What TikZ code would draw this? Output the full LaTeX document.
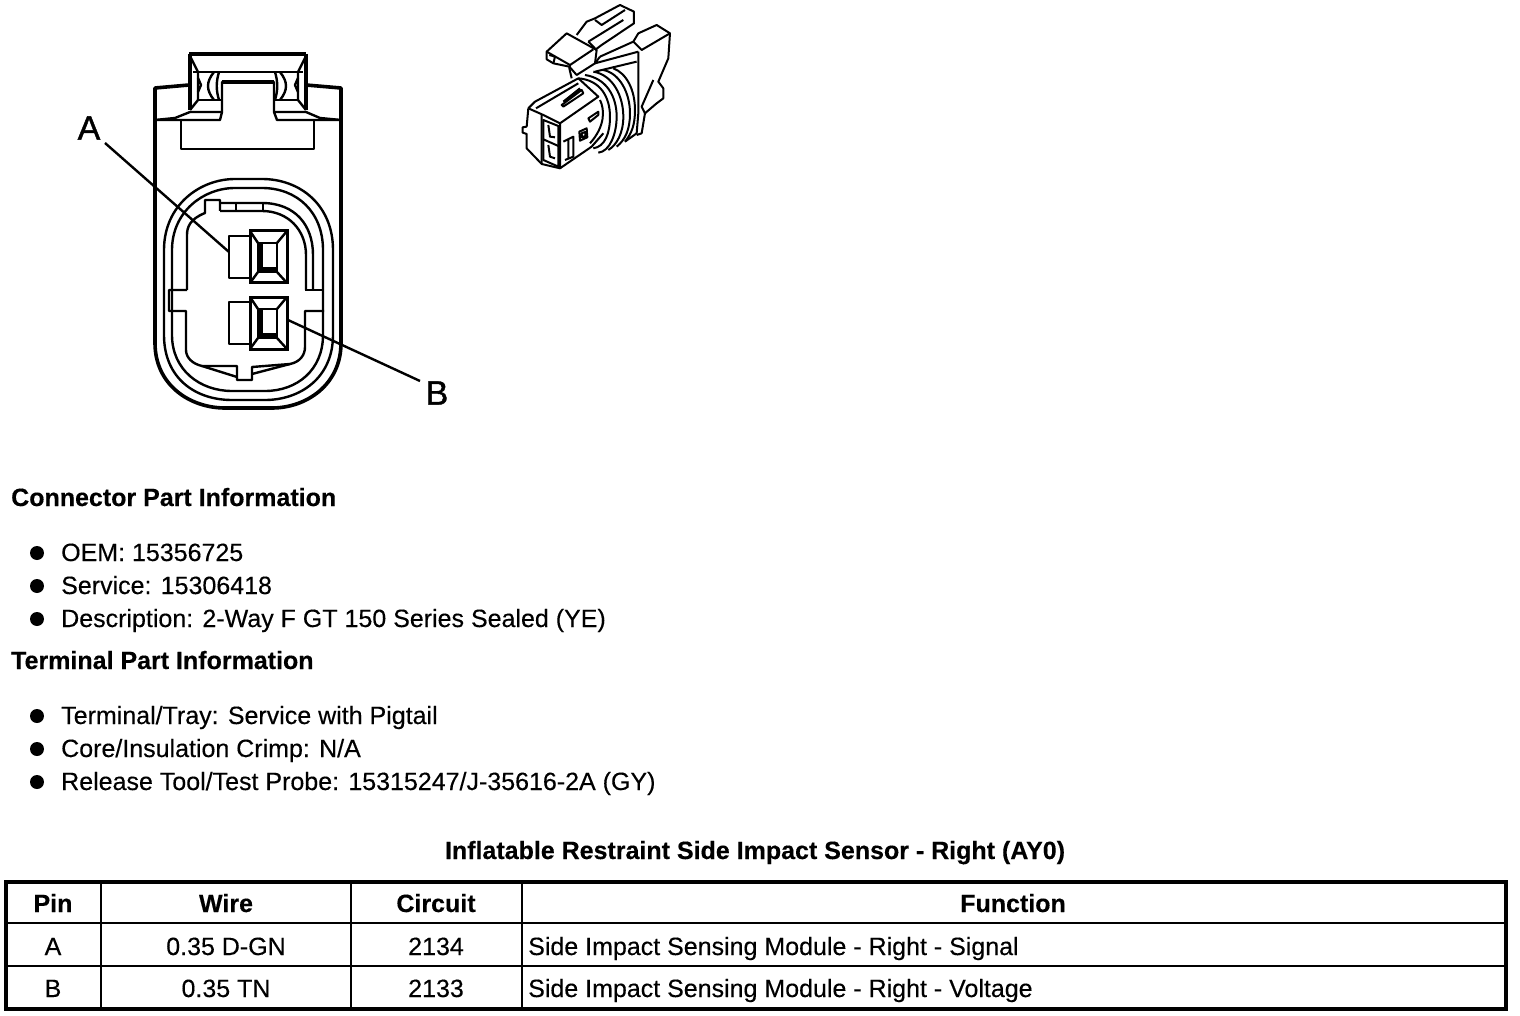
\documentclass[tikz,border=0pt]{standalone}
\usepackage{fontspec}
\setmainfont{Liberation Sans}[FakeBold=0.3]
\tikzset{
  txt/.style={inner sep=0pt,anchor=base west,font=\fontsize{25}{29}\selectfont},
  head/.style={txt,font=\fontsize{25}{29}\selectfont\bfseries},
  cell/.style={txt,anchor=base},
  headcell/.style={head,anchor=base},
  callout/.style={inner sep=0pt,font=\fontsize{34}{38}\selectfont\addfontfeature{FakeBold=1.2}},
  bullet/.style={circle,fill=black,inner sep=0pt,minimum size=14pt},
  part/.style={line width=2.4pt,line join=round},
  heavy/.style={line width=3.6pt,line join=round},
  rule/.style={line width=1.4pt},
  frame/.style={line width=3.4pt}
}
\begin{document}
\begin{tikzpicture}[x=1pt,y=-1pt]
  \useasboundingbox (0,0) rectangle (1520,1016);
  % housing
  \draw[heavy] (189,54) -- (306,54);
  \draw[heavy] (190,54) -- (190,110) (306,54) -- (306,110);
  \draw[heavy] (155,343) -- (155,88) -- (189,85);
  \draw[heavy] (306,85) -- (341,88) -- (341,343);
  \draw[heavy] (155,343) .. controls (155,385) and (190,408) .. (225,408) -- (272,408)
    .. controls (306,408) and (341,385) .. (341,343);
  \draw[part] (155,120) -- (175,118) -- (190,112) -- (222,112);
  \draw[part] (341,120) -- (320,118) -- (306,112) -- (274,112);
  \draw[part] (155,120) -- (220,120) -- (222,112) -- (222,82) -- (274,82) -- (274,112) -- (277,120) -- (341,120);
  \draw[heavy] (222,82) -- (274,82);
  \draw[part] (181,120) -- (181,149) -- (314,149) -- (314,120);
  \draw[part] (193,72) -- (303,72);
  \draw[part] (190,56) -- (198,72) -- (198,100) -- (190,110);
  \draw[part] (306,56) -- (298,72) -- (298,100) -- (306,110);
  \draw[part] (198,100) -- (222,100) (298,100) -- (274,100);
  \draw[part] (198,78) -- (201,85) -- (198,92) (298,78) -- (295,85) -- (298,92);
  \draw[part] (214,72) .. controls (206,82) and (206,90) .. (214,100);
  \draw[part] (219,72) .. controls (216,82) and (216,90) .. (219,100);
  \draw[part] (275,72) .. controls (278,82) and (278,90) .. (275,100);
  \draw[part] (280,72) .. controls (288,82) and (288,90) .. (280,100);
  % rings
  \draw[part] (164,250) .. controls (164,205) and (200,179) .. (235,179) -- (262,179)
    .. controls (300,179) and (333,205) .. (333,250) -- (333,335)
    .. controls (333,378) and (300,400) .. (265,400) -- (232,400)
    .. controls (195,400) and (164,378) .. (164,335) -- cycle;
  \draw[part] (172,250) .. controls (172,212) and (203,188) .. (235,188) -- (262,188)
    .. controls (297,188) and (323,212) .. (323,250) -- (323,335)
    .. controls (323,370) and (297,391) .. (265,391) -- (232,391)
    .. controls (200,391) and (172,370) .. (172,335) -- cycle;
  % cavity
  \draw[part] (187,290) -- (187,235) .. controls (187,227) and (190,219) .. (205,213) -- (205,200) -- (220,200) -- (220,211);
  \draw[part] (220,203) -- (262,203) .. controls (295,203) and (313,225) .. (313,255) -- (313,290);
  \draw[part] (220,211) -- (262,211) .. controls (288,211) and (306,230) .. (306,255) -- (306,290);
  \draw[part] (236,203) -- (236,211) (263,203) -- (263,211);
  \draw[part] (187,290) -- (169,290) -- (169,311) -- (186,311) -- (186,350)
    .. controls (186,358) and (193,364) .. (202,366) -- (237,366) -- (237,380) -- (252,380) -- (252,367)
    -- (290,364) .. controls (300,362) and (305,355) .. (305,347) -- (305,311) -- (324,311);
  \draw[part] (305,290) -- (324,290);
  \draw[part] (202,366) -- (237,377) (252,374) -- (290,364);
  % terminals
  \foreach \tname/\ty in {termA/231,termB/297}{
    \draw[part] (250,\ty+5) -- (229,\ty+5) -- (229,\ty+47) -- (250,\ty+47);
    \draw[line width=3pt] (250,\ty) rectangle (287,\ty+52);
    \draw[part] (258,\ty+12) rectangle (277,\ty+41);
    \draw[line width=4.6pt] (260.5,\ty+13) -- (260.5,\ty+38.5) -- (276,\ty+38.5);
    \draw[part] (250,\ty) -- (258,\ty+12) (287,\ty) -- (277,\ty+12);
    \draw[part] (250,\ty+52) -- (258,\ty+41) (287,\ty+52) -- (277,\ty+41);
  }
  % callouts
  \node[callout] (pinA) at (89,128) {A};
  \node[callout] (pinB) at (437,393) {B};
  \coordinate (endA) at (229,252);
  \coordinate (endB) at (288,320);
  \draw[part] (pinA) ++(16,15) -- (endA);
  \draw[part] (pinB) ++(-17,-12) -- (endB);
  % small view
  \begin{scope}[shift={(510,0)},x=0.3333pt,y=-0.3333pt,line width=2pt,line join=round]
    \draw (55,325) -- (50,380) -- (38,382) -- (38,398) -- (50,402) -- (50,445) -- (95,492) -- (150,505) -- (245,440) -- (280,400);
    \draw (55,325) -- (75,305) -- (205,235) -- (265,290) -- (150,370) -- (100,345) -- (55,325);
    \draw (78,325) -- (205,250) (150,370) -- (150,505) (95,345) -- (95,490);
    \draw (155,315) -- (215,270) -- (220,280) -- (160,320) -- cycle (160,305) -- (210,265);
    \draw (100,360) -- (145,378) -- (145,500) -- (100,480) -- cycle;
    \draw (100,418) -- (145,438) (115,375) -- (120,410) -- (135,412) (115,435) -- (120,470) -- (135,475);
    \draw (208,395) -- (230,385) -- (232,412) -- (210,422) -- cycle (215,400) -- (226,396) -- (226,408) -- (216,412) -- cycle;
    \draw (160,425) -- (190,410) -- (190,470) -- (165,480) (175,420) -- (175,475);
    \draw (235,355) -- (265,335) -- (265,345) -- (240,365) -- cycle;
    \draw (205,235) .. controls (270,240) and (300,290) .. (300,350) .. controls (300,400) and (285,440) .. (250,445);
    \draw (225,225) .. controls (290,235) and (320,290) .. (320,350) .. controls (320,400) and (300,455) .. (265,458);
    \draw (250,215) .. controls (310,225) and (340,290) .. (340,350) .. controls (340,400) and (320,435) .. (295,450);
    \draw (280,210) .. controls (330,220) and (360,280) .. (360,340) .. controls (360,390) and (345,420) .. (320,440);
    \draw (310,205) .. controls (350,220) and (375,270) .. (375,330) .. controls (375,375) and (365,400) .. (345,425);
    \draw (270,300) .. controls (285,330) and (285,380) .. (240,430);
    \draw (110,155) -- (170,100) -- (260,150) -- (255,190) -- (200,225) -- (178,200) -- (130,190) -- (110,178) -- cycle;
    \draw (110,155) -- (180,195) -- (250,148) (180,195) -- (178,205) -- (185,235);
    \draw (118,165) -- (135,170) -- (130,190);
    \draw (200,105) -- (230,65) -- (255,55) -- (330,15) -- (372,35) -- (372,70) -- (275,135) -- (255,150);
    \draw (255,60) -- (275,75) -- (345,30);
    \draw (235,125) -- (340,60) (235,125) -- (255,145);
    \draw (270,170) -- (370,125) -- (385,100) -- (440,75) -- (480,100) -- (475,175) -- (445,245) -- (460,265) -- (460,295) -- (440,310) -- (405,340) -- (395,320) -- (430,240);
    \draw (370,125) -- (395,150) -- (480,100);
    \draw (385,155) -- (385,340) -- (380,400) -- (345,425);
    \draw (270,170) -- (255,190) (255,190) -- (385,155) (255,215) -- (380,185);
    \draw (405,340) -- (395,400) -- (380,405);
  \end{scope}
  % part information
  \node[head] (connhead) at (11,506) {Connector Part Information};
  \node[txt] (oem) at (61,561) {OEM: 15356725};
  \node[txt] (service) at (61,594) {Service: 15306418};
  \node[txt] (descr) at (61,627) {Description: 2-Way F GT 150 Series Sealed (YE)};
  \node[head] (termhead) at (11,669) {Terminal Part Information};
  \node[txt] (tray) at (61,724) {Terminal/Tray: Service with Pigtail};
  \node[txt] (crimp) at (61,757) {Core/Insulation Crimp: N/A};
  \node[txt] (tool) at (61,790) {Release Tool/Test Probe: 15315247/J-35616-2A (GY)};
  \foreach \by in {553,586,619,716,749,782}
    \node[bullet] at (37,\by) {};
  % table
  \node[headcell] (title) at (755,859) {Inflatable Restraint Side Impact Sensor - Right (AY0)};
  \coordinate (tl) at (6,882);
  \coordinate (br) at (1506,1009);
  \draw[frame] (tl) rectangle (br);
  \draw[frame,line width=2.6pt] (6,923) -- (1506,923);
  \draw[rule] (6,966) -- (1506,966);
  \draw[frame,line width=2.6pt] (101,882) -- (101,1009);
  \draw[rule] (351,882) -- (351,1009) (522,882) -- (522,1009);
  \node[headcell] (pin) at (53,912) {Pin};
  \node[headcell] (wire) at (226,912) {Wire};
  \node[headcell] (circuit) at (436,912) {Circuit};
  \node[headcell] (function) at (1013,912) {Function};
  \node[cell] (pa) at (53,955) {A};
  \node[cell] (wa) at (226,955) {0.35 D-GN};
  \node[cell] (ca) at (436,955) {2134};
  \node[txt] (fa) at (528,955) {Side Impact Sensing Module - Right - Signal};
  \node[cell] (pb) at (53,997) {B};
  \node[cell] (wb) at (226,997) {0.35 TN};
  \node[cell] (cb) at (436,997) {2133};
  \node[txt] (fb) at (528,997) {Side Impact Sensing Module - Right - Voltage};
\end{tikzpicture}
\end{document}
